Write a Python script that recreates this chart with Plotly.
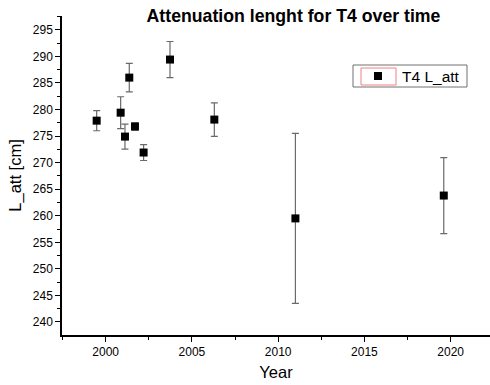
import plotly.graph_objects as go

# Measurement epochs (decimal year) and attenuation length of T4
years = [1999.48, 2000.87, 2001.12, 2001.37, 2001.70, 2002.20, 2003.73, 2006.30, 2011.0, 2019.6]
l_att = [277.9, 279.4, 274.9, 286.0, 276.8, 271.9, 289.4, 278.1, 259.5, 263.8]
l_err = [1.9, 3.0, 2.35, 2.7, 0.7, 1.5, 3.4, 3.15, 16.0, 7.15]

font = "Liberation Sans, Arial, sans-serif"

PL, PB, PW, PH = 62, 335, 428, 319  # plot-area origin (px) and size


def px_x(x):
    return (x - PL) / PW


def px_y(y):
    return (PB - y) / PH


fig = go.Figure()
fig.add_trace(go.Scatter(
    x=years, y=l_att, mode="markers", name="T4 L_att",
    marker=dict(symbol="square", size=8, color="black"),
    error_y=dict(type="data", array=l_err, visible=True,
                 color="#6a6a6a", thickness=1.2, width=3.5),
))

# Legend frame and the red frame around its symbol
fig.add_shape(type="rect", xref="paper", yref="paper",
              x0=px_x(353), x1=px_x(467), y0=px_y(87), y1=px_y(65),
              line=dict(color="#707070", width=1), layer="above")
fig.add_shape(type="rect", xref="paper", yref="paper",
              x0=px_x(361), x1=px_x(396), y0=px_y(85), y1=px_y(68),
              line=dict(color="#f08080", width=1), layer="above")

fig.update_layout(
    width=490, height=385,
    margin=dict(l=PL, r=0, t=16, b=50),
    paper_bgcolor="white", plot_bgcolor="white",
    font=dict(family=font, size=12, color="black"),
    title=dict(text="<b>Attenuation lenght for T4 over time</b>",
               x=293.5 / 490, xanchor="center", y=1 - 16 / 385, yanchor="middle",
               font=dict(size=17.7, family=font)),
    showlegend=True,
    legend=dict(x=px_x(354), xanchor="left", y=px_y(76.5), yanchor="middle",
                borderwidth=0, bgcolor="rgba(0,0,0,0)",
                font=dict(size=15.5, family=font), itemwidth=38,
                tracegroupgap=0),
    xaxis=dict(range=[1997.47, 2022.28], tickvals=[2000, 2005, 2010, 2015, 2020],
               showgrid=False, zeroline=False, showline=True, linecolor="black",
               linewidth=1.5, ticks="outside", ticklen=5, tickwidth=1.2, tickcolor="black",
               minor=dict(dtick=2.5, tick0=2000, ticks="outside", ticklen=3,
                          tickwidth=1.2, tickcolor="black", showgrid=False),
               title=dict(text="Year", font=dict(size=16.5, family=font), standoff=8),
               tickfont=dict(size=12)),
    yaxis=dict(range=[237.55, 297.6], tickvals=[240, 245, 250, 255, 260, 265, 270, 275, 280, 285, 290, 295],
               showgrid=False, zeroline=False, showline=True, linecolor="black",
               linewidth=1.5, ticks="outside", ticklen=5, tickwidth=1.2, tickcolor="black",
               minor=dict(dtick=2.5, tick0=240, ticks="outside", ticklen=3,
                          tickwidth=1.2, tickcolor="black", showgrid=False),
               title=dict(text="L_att [cm]", font=dict(size=16.5, family=font), standoff=7),
               tickfont=dict(size=12)),
)

fig.write_html("out.html")
